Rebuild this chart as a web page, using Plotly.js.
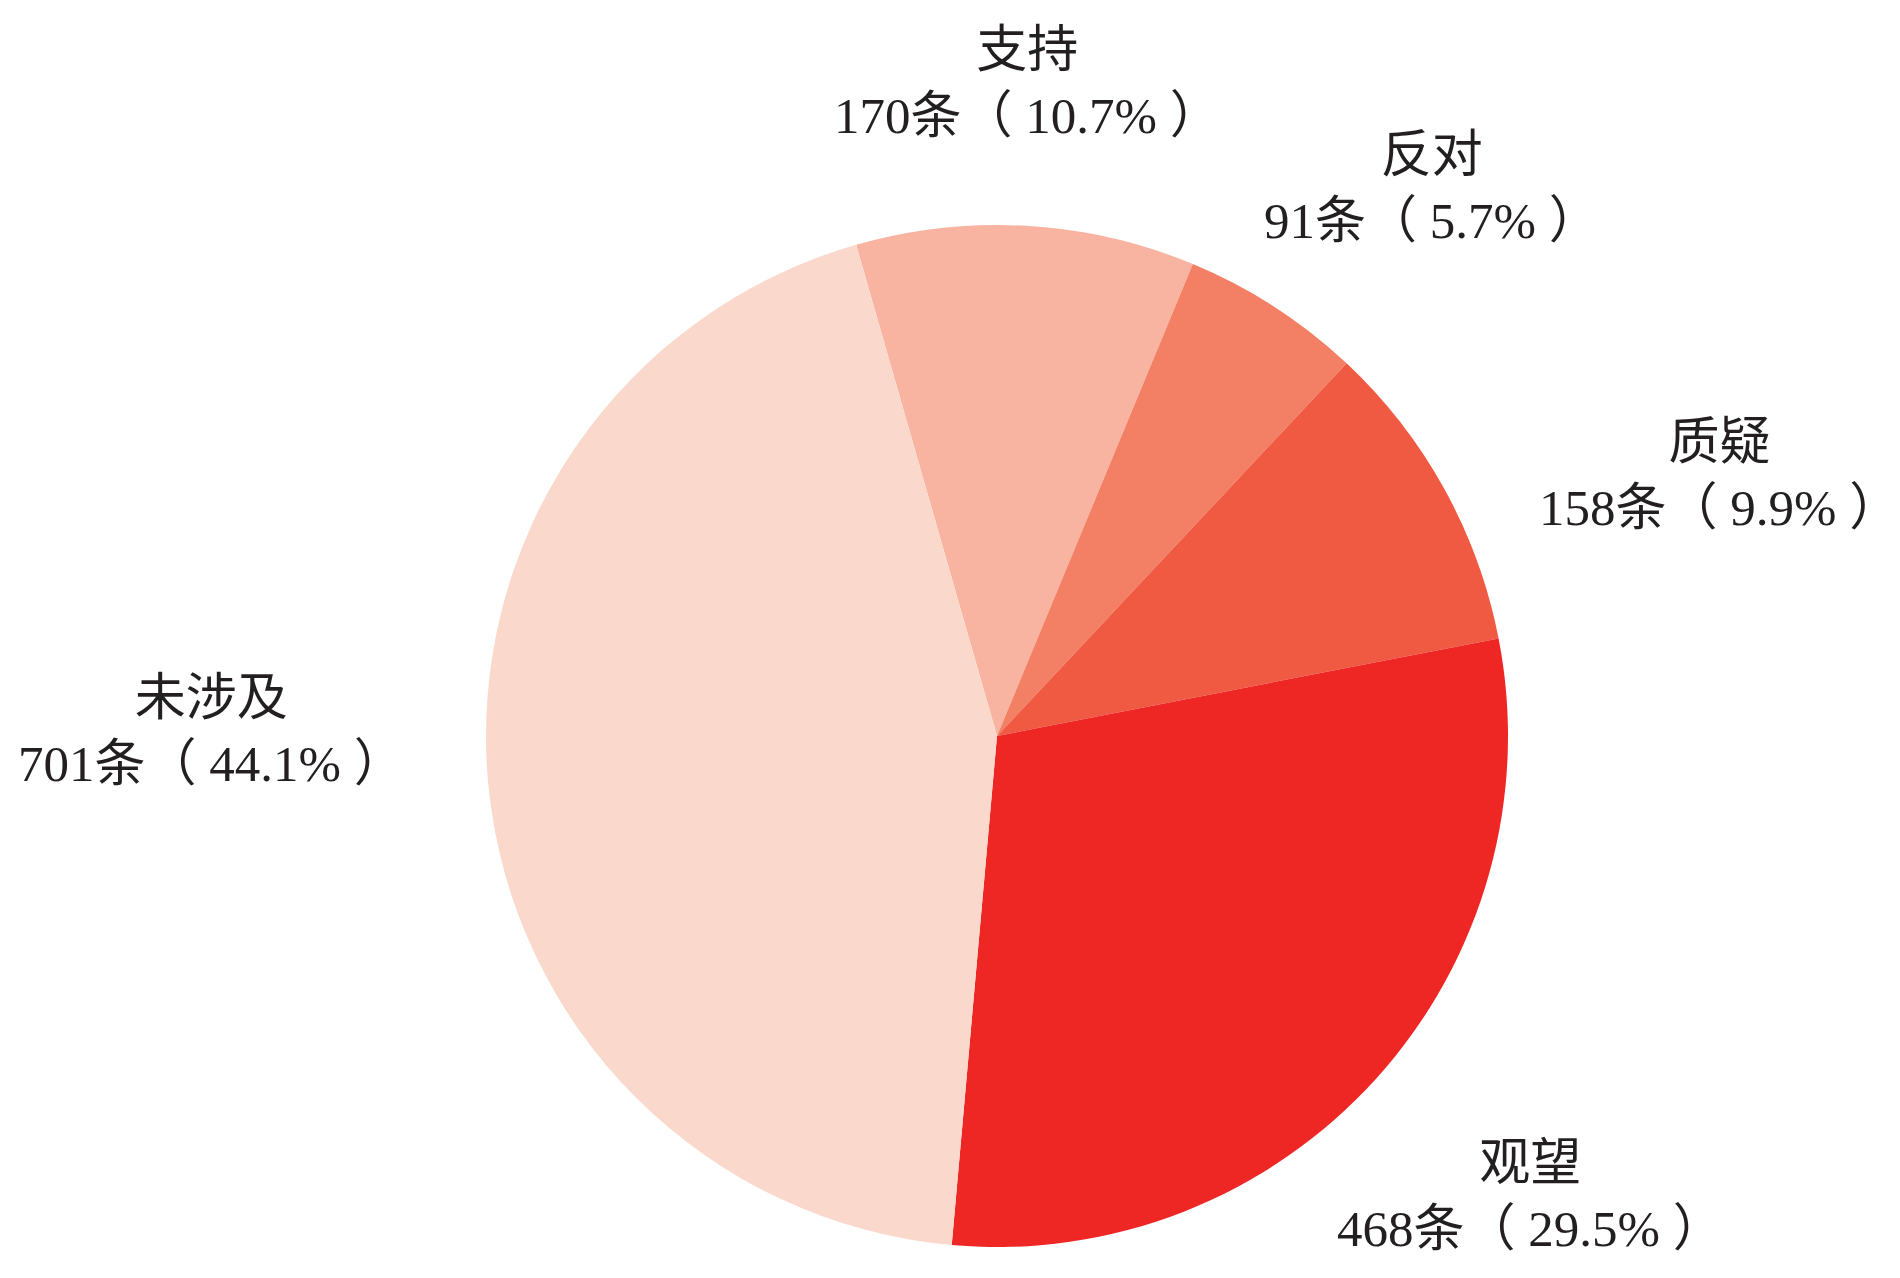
<!DOCTYPE html>
<html>
<head>
<meta charset="utf-8">
<script src="https://cdn.plot.ly/plotly-3.0.1.min.js"></script>
<style>html,body{margin:0;padding:0;background:#fff;}#chart{width:1900px;height:1278px;}</style>
</head>
<body>
<div id="chart"></div>
<script>
const categories = ["支持", "反对", "质疑", "观望", "未涉及"];
const counts = [170, 91, 158, 468, 701];
const percents = ["10.7", "5.7", "9.9", "29.5", "44.1"];
const sliceColors = ["#F8B4A0", "#F37F64", "#F05A43", "#EE2724", "#FAD9CC"];

// label placement (paper coords), layout only
const labelPos = [
  [1027/1900, 1 - 83/1278],
  [1432/1900, 1 - 188/1278],
  [1719/1900, 1 - 475/1278],
  [1530/1900, 1 - 1196/1278],
  [211/1900, 1 - 731/1278]
];

const fontFam = "'Liberation Serif', 'Noto Sans CJK SC', serif";

const annotations = categories.map((c, i) => ({
  text: c + "<br>" + counts[i] + "条（ " + percents[i] + "% ）",
  x: labelPos[i][0], y: labelPos[i][1],
  xref: "paper", yref: "paper",
  xanchor: "center", yanchor: "middle",
  showarrow: false, align: "center",
  font: {family: fontFam, size: 51, color: "#231F20"}
}));

const trace = {
  type: "pie",
  labels: categories,
  values: counts,
  sort: false,
  direction: "clockwise",
  rotation: -16,
  textinfo: "none",
  hoverinfo: "label+value+percent",
  marker: {colors: sliceColors, line: {width: 0}},
  domain: {x: [486/1900, 1508/1900], y: [1 - 1248/1278, 1 - 224/1278]}
};

const layout = {
  width: 1900, height: 1278,
  margin: {l: 0, r: 0, t: 0, b: 0},
  paper_bgcolor: "#ffffff",
  showlegend: false,
  annotations: annotations
};

Plotly.newPlot("chart", [trace], layout, {displayModeBar: false, staticPlot: true});
</script>
</body>
</html>
